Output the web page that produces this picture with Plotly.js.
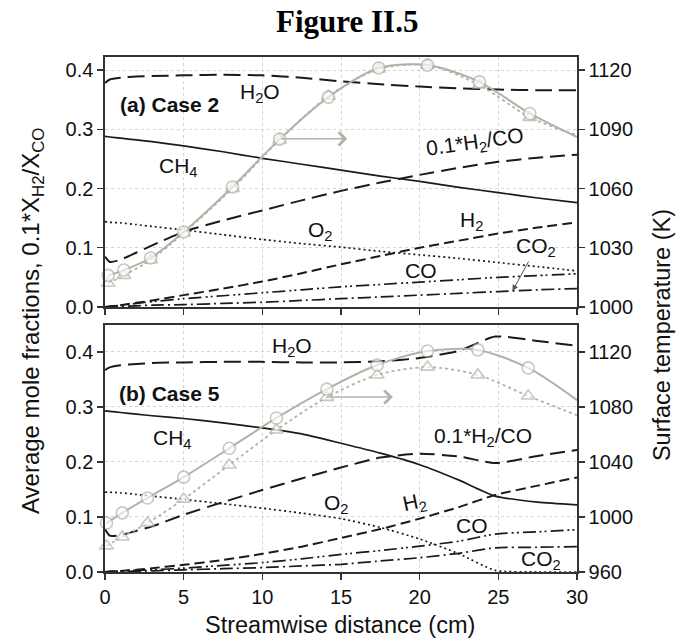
<!DOCTYPE html>
<html><head><meta charset="utf-8">
<script src="https://cdn.plot.ly/plotly-3.0.1.min.js"></script>
<style>body{margin:0;background:#fff;} #chart{width:678px;height:639px;}</style>
</head><body><div id="chart"></div>
<script>
// ---------- Panel (a) Case 2 : species (cm, mole fraction) ----------
const distA   = [0, 0.3, 1, 2, 3, 5, 7.5, 10, 12.5, 15, 17.5, 20, 22.5, 25, 27.5, 30];
const h2oA    = [0.378,0.384,0.387,0.389,0.390,0.391,0.392,0.391,0.387,0.381,0.376,0.372,0.369,0.367,0.366,0.366];
const ch4A    = [0.288,0.287,0.285,0.282,0.279,0.272,0.262,0.251,0.241,0.231,0.221,0.212,0.202,0.193,0.184,0.176];
const ratioA  = [0.085,0.076,0.080,0.092,0.104,0.127,0.146,0.163,0.180,0.196,0.210,0.223,0.235,0.245,0.252,0.257];
const o2A     = [0.144,0.143,0.142,0.139,0.136,0.130,0.122,0.114,0.107,0.101,0.094,0.088,0.082,0.075,0.068,0.061];
const h2A     = [0,0.001,0.003,0.007,0.011,0.020,0.031,0.043,0.057,0.072,0.086,0.100,0.112,0.124,0.134,0.143];
const coA     = [0,0.001,0.003,0.006,0.009,0.014,0.019,0.024,0.029,0.034,0.038,0.042,0.046,0.050,0.053,0.056];
const co2A    = [0,0.0005,0.001,0.002,0.003,0.004,0.006,0.008,0.011,0.014,0.017,0.020,0.023,0.026,0.029,0.031];
// Panel (a) surface temperature (K)
const tDistA  = [0.2, 1.2, 2.9, 5.0, 8.1, 11.1, 14.2, 17.4, 20.5, 23.8, 27.0, 30];
const tCircA  = [1016,1018.7,1024.8,1038,1060.8,1085,1106.3,1121,1122.5,1114,1098,1086];
const tTriA   = [1012,1016,1023.8,1037.5,1060,1084.6,1106.8,1120.5,1122.5,1112.4,1096,1087];

// ---------- Panel (b) Case 5 ----------
const distB   = [0, 0.3, 1, 2, 3, 5, 7.5, 10, 12.5, 15, 17.5, 20, 22.5, 24.8, 27.5, 30];
const h2oB    = [0.367,0.372,0.376,0.378,0.380,0.381,0.382,0.382,0.381,0.381,0.383,0.389,0.402,0.428,0.420,0.411];
const ch4B    = [0.293,0.292,0.290,0.287,0.284,0.279,0.271,0.262,0.251,0.234,0.216,0.195,0.167,0.138,0.127,0.122];
const ratioB  = [0.078,0.066,0.067,0.075,0.083,0.104,0.127,0.149,0.170,0.190,0.208,0.215,0.210,0.198,0.211,0.222];
const o2B     = [0.145,0.145,0.144,0.141,0.138,0.132,0.124,0.116,0.107,0.097,0.081,0.060,0.033,0.003,0,0];
const h2B     = [0,0.001,0.002,0.004,0.007,0.013,0.022,0.033,0.046,0.062,0.078,0.097,0.118,0.140,0.157,0.172];
const coB     = [0,0.001,0.002,0.003,0.004,0.007,0.012,0.017,0.024,0.032,0.039,0.047,0.056,0.069,0.073,0.077];
const co2B    = [0,0.0005,0.001,0.0015,0.002,0.004,0.006,0.008,0.011,0.014,0.020,0.026,0.034,0.044,0.045,0.046];
const tDistB  = [0.1, 1.1, 2.7, 5.0, 7.9, 10.9, 14.1, 17.3, 20.5, 23.7, 26.9, 30];
const tCircB  = [995.6,1003,1013.8,1029,1050,1072,1093,1110.5,1120.7,1121.5,1108.4,1085];
const tTriB   = [979,985.5,995.6,1013,1037.8,1063.3,1087,1103.3,1109,1103.3,1088,1074];

const xTicks   = [0, 5, 10, 15, 20, 25, 30];
const yTicks   = [0, 0.1, 0.2, 0.3, 0.4];
const tTicksA  = [1000, 1030, 1060, 1090, 1120];
const tTicksB  = [960, 1000, 1040, 1080, 1120];

// ---------- styles ----------
const INK = '#1a1a1a';
const GREY = '#b0b4a6';
const FONT = 'Liberation Sans, Arial, sans-serif';
const sty = {
  h2o:   {color: INK, width: 2, dash: '17px,7px'},
  ch4:   {color: INK, width: 1.7, dash: 'solid'},
  ratio: {color: INK, width: 2, dash: '15px,7px'},
  o2:    {color: INK, width: 1.7, dash: '2px,3px'},
  h2:    {color: INK, width: 2, dash: '10px,5px'},
  co:    {color: INK, width: 1.7, dash: '13px,4px,2px,3px,2px,4px'},
  co2:   {color: INK, width: 1.7, dash: '13px,4px,2px,4px'}
};
function markerSizes(n){ const s = new Array(n).fill(12); s[n-1] = 0; return s; }

function species(x, ys, xa, ya){
  return ys.map(([y, st]) => ({x: x, y: y, xaxis: xa, yaxis: ya, mode: 'lines',
    line: Object.assign({shape: 'spline', smoothing: 0.6}, st), hoverinfo: 'skip', showlegend: false}));
}
function temps(x, circ, tri, xa, ya){
  return [
    {x: x, y: tri, xaxis: xa, yaxis: ya, mode: 'lines+markers', cliponaxis: false,
     line: {color: GREY, width: 1.8, dash: 'dot', shape: 'spline', smoothing: 0.8},
     marker: {symbol: 'triangle-up', size: markerSizes(x.length), color: 'rgba(255,255,255,0.9)', line: {color: GREY, width: 1.6}},
     showlegend: false},
    {x: x, y: circ, xaxis: xa, yaxis: ya, mode: 'lines+markers', cliponaxis: false,
     line: {color: GREY, width: 2, shape: 'spline', smoothing: 0.8},
     marker: {symbol: 'circle', size: markerSizes(x.length), color: 'rgba(255,255,255,0.9)', line: {color: GREY, width: 1.6}},
     showlegend: false}
  ];
}

const data = [].concat(
  species(distA, [[h2oA, sty.h2o],[ch4A, sty.ch4],[ratioA, sty.ratio],[o2A, sty.o2],[h2A, sty.h2],[coA, sty.co],[co2A, sty.co2]], 'x2', 'y'),
  temps(tDistA, tCircA, tTriA, 'x2', 'y2'),
  species(distB, [[h2oB, sty.h2o],[ch4B, sty.ch4],[ratioB, sty.ratio],[o2B, sty.o2],[h2B, sty.h2],[coB, sty.co],[co2B, sty.co2]], 'x', 'y3'),
  temps(tDistB, tCircB, tTriB, 'x', 'y4')
);

const axBase = {
  showline: true, linecolor: '#333', linewidth: 1.6, ticks: 'outside', ticklen: 6, tickwidth: 1.5, tickcolor: '#333',
  tickfont: {family: FONT, size: 20, color: '#111'}, zeroline: false,
  showgrid: true, gridcolor: '#d4d4d4', griddash: 'dot', gridwidth: 1
};
const ax = o => Object.assign({}, axBase, o);

const lab = (text, x, y, xr, yr, extra) => Object.assign({
  text: text, x: x, y: y, xref: xr, yref: yr, showarrow: false,
  font: {family: FONT, size: 21, color: '#111'}, xanchor: 'center', yanchor: 'middle'}, extra || {});

const annotations = [
  // title
  {text: '<b>Figure II.5</b>', xref: 'paper', yref: 'paper', x: 0.513, y: 1.068, showarrow: false,
   font: {family: 'Liberation Serif, Times New Roman, serif', size: 31, color: '#000'}, xanchor: 'center', yanchor: 'middle'},
  // axis titles
  {text: 'Average mole fractions, 0.1*X<sub>H2</sub>/X<sub>CO</sub>', xref: 'paper', yref: 'paper', x: -0.155, y: 0.487,
   textangle: -90, showarrow: false, font: {family: FONT, size: 24, color: '#111'}, xanchor: 'center', yanchor: 'middle'},
  {text: 'Surface temperature (K)', xref: 'paper', yref: 'paper', x: 1.18, y: 0.46,
   textangle: -90, showarrow: false, font: {family: FONT, size: 23.5, color: '#111'}, xanchor: 'center', yanchor: 'middle'},
  {text: 'Streamwise distance (cm)', xref: 'paper', yref: 'paper', x: 0.498, y: -0.103,
   showarrow: false, font: {family: FONT, size: 23.5, color: '#111'}, xanchor: 'center', yanchor: 'middle'},
  // panel (a) labels
  lab('<b>(a) Case 2</b>', 4.1, 0.341, 'x2', 'y'),
  lab('H<sub>2</sub>O', 9.85, 0.361, 'x2', 'y'),
  lab('CH<sub>4</sub>', 4.66, 0.237, 'x2', 'y'),
  lab('0.1*H<sub>2</sub>/CO', 23.5, 0.277, 'x2', 'y', {textangle: -8}),
  lab('O<sub>2</sub>', 13.7, 0.128, 'x2', 'y'),
  lab('H<sub>2</sub>', 23.3, 0.145, 'x2', 'y'),
  lab('CO', 20.1, 0.062, 'x2', 'y'),
  {text: 'CO<sub>2</sub>', x: 25.9, y: 0.027, xref: 'x2', yref: 'y', showarrow: true, ax: 24, ay: -44,
   arrowhead: 2, arrowsize: 1.2, arrowwidth: 1, arrowcolor: '#555', standoff: 0,
   font: {family: FONT, size: 21, color: '#111'}},
  {text: '', x: 15.4, y: 0.284, xref: 'x2', yref: 'y', ax: 11.1, ay: 0.284, axref: 'x2', ayref: 'y',
   showarrow: true, arrowhead: 4, arrowsize: 1.6, arrowwidth: 1.6, arrowcolor: GREY},
  // panel (b) labels
  lab('<b>(b) Case 5</b>', 4.1, 0.325, 'x', 'y3'),
  lab('H<sub>2</sub>O', 11.9, 0.409, 'x', 'y3'),
  lab('CH<sub>4</sub>', 4.3, 0.241, 'x', 'y3'),
  lab('0.1*H<sub>2</sub>/CO', 24.0, 0.245, 'x', 'y3'),
  lab('O<sub>2</sub>', 14.7, 0.124, 'x', 'y3'),
  lab('H<sub>2</sub>', 19.7, 0.125, 'x', 'y3', {textangle: -12}),
  lab('CO', 23.3, 0.085, 'x', 'y3'),
  lab('CO<sub>2</sub>', 27.7, 0.022, 'x', 'y3'),
  {text: '', x: 18.3, y: 0.318, xref: 'x', yref: 'y3', ax: 14.0, ay: 0.318, axref: 'x', ayref: 'y3',
   showarrow: true, arrowhead: 4, arrowsize: 1.6, arrowwidth: 1.6, arrowcolor: GREY}
];

const layout = {
  width: 678, height: 639,
  margin: {l: 105, r: 101, t: 57, b: 67},
  paper_bgcolor: '#fff', plot_bgcolor: '#fff',
  showlegend: false,
  xaxis:  ax({domain: [0, 1], anchor: 'y3', range: [0, 30], tickvals: xTicks, mirror: true}),
  xaxis2: ax({domain: [0, 1], anchor: 'y', range: [0, 30], tickvals: xTicks, matches: 'x', showticklabels: false, mirror: true}),
  yaxis:  ax({domain: [0.5146, 1], anchor: 'x2', range: [0, 0.422], tickvals: yTicks, tickformat: '.1f', mirror: true}),
  yaxis2: ax({overlaying: 'y', side: 'right', anchor: 'x2', range: [1000, 1126.6], tickvals: tTicksA, showgrid: false}),
  yaxis3: ax({domain: [0, 0.4796], anchor: 'x', range: [0, 0.449], tickvals: yTicks, tickformat: '.1f', mirror: true}),
  yaxis4: ax({overlaying: 'y3', side: 'right', anchor: 'x', range: [960, 1139.6], tickvals: tTicksB, showgrid: false}),
  annotations: annotations
};

Plotly.newPlot('chart', data, layout, {staticPlot: true, displayModeBar: false});
</script>
</body></html>
